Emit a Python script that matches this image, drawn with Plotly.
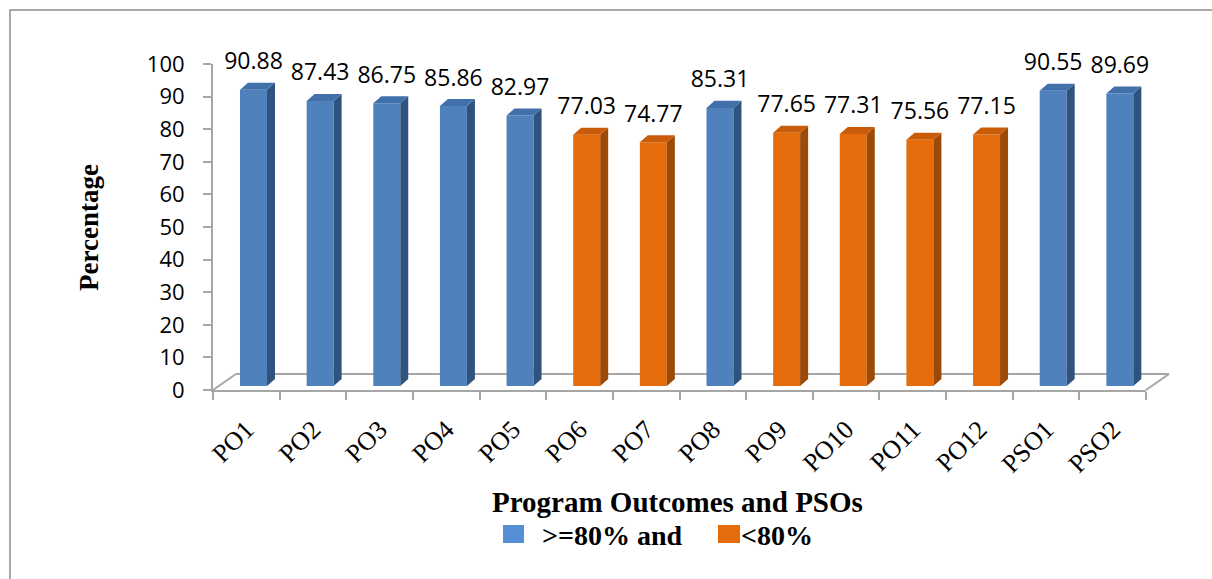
import plotly.graph_objects as go

categories = ["PO1", "PO2", "PO3", "PO4", "PO5", "PO6", "PO7", "PO8", "PO9",
              "PO10", "PO11", "PO12", "PSO1", "PSO2"]
values = [90.88, 87.43, 86.75, 85.86, 82.97, 77.03, 74.77, 85.31, 77.65,
          77.31, 75.56, 77.15, 90.55, 89.69]
threshold = 80
y_ticks = list(range(0, 101, 10))
legend_labels = [">=80% and", "<80%"]
x_title = "Program Outcomes and PSOs"
y_title = "Percentage"

# figure geometry (pixels)
W, H = 1212, 579
ML, MR, MT, MB = 213, 66, 64, 189
PW, PH = W - ML - MR, H - MT - MB
N = len(categories)


def px(xp):
    return (xp - ML) / PW


def py(yp):
    return (H - MB - yp) / PH


# 3D style constants (data units)
front_off = 0.405
front_w = 0.405
base = 1.23
side_dx = 0.12
top_dy = 2.15
floor_dx = 0.345
floor_dy = 4.9
label_gap = 2.4

BLUE = dict(front="#4F81BD", side="#30527F", top="#4170AA", legend="#558ED5")
ORNG = dict(front="#E46C0A", side="#9C4A06", top="#C95C08", legend="#E46C0A")

fig = go.Figure()

groups = {"hi": BLUE, "lo": ORNG}
for key, col in groups.items():
    idx = [i for i, v in enumerate(values) if (v >= threshold) == (key == "hi")]
    xs_c = [i + front_off + front_w / 2 for i in idx]
    fig.add_trace(go.Bar(
        x=xs_c, y=[values[i] for i in idx], base=[base] * len(idx),
        width=front_w, marker=dict(color=col["front"], line=dict(width=0)),
        showlegend=False, hoverinfo="skip"))
    sx, sy, tx, ty = [], [], [], []
    for i in idx:
        x0 = i + front_off
        x1 = x0 + front_w
        top = base + values[i]
        sx += [x1, x1, x1 + side_dx, x1 + side_dx, x1, None]
        sy += [base, top, top + top_dy, base + top_dy, base, None]
        tx += [x0, x1, x1 + side_dx, x0 + side_dx, x0, None]
        ty += [top, top, top + top_dy, top + top_dy, top, None]
    fig.add_trace(go.Scatter(x=sx, y=sy, mode="lines", fill="toself",
                             fillcolor=col["side"], line=dict(width=0, color=col["side"]),
                             showlegend=False, hoverinfo="skip"))
    fig.add_trace(go.Scatter(x=tx, y=ty, mode="lines", fill="toself",
                             fillcolor=col["top"], line=dict(width=0, color=col["top"]),
                             showlegend=False, hoverinfo="skip"))

# value labels
fig.add_trace(go.Scatter(
    x=[i + front_off + front_w / 2 for i in range(N)],
    y=[base + v + top_dy + label_gap for v in values],
    mode="text", text=[f"{v:.2f}" for v in values],
    textposition="top center", cliponaxis=False,
    textfont=dict(family="Open Sans", size=23, color="black"),
    showlegend=False, hoverinfo="skip"))

GRAY = "#A6A6A6"
shapes = []
fx = lambda xd: xd / N
fy = lambda yd: yd / 100
for (a, b) in [((0, 0), (floor_dx, floor_dy)),
               ((floor_dx, floor_dy), (N + floor_dx, floor_dy)),
               ((N + floor_dx, floor_dy), (N, 0))]:
    shapes.append(dict(type="line", xref="paper", yref="paper",
                       x0=fx(a[0]), y0=fy(a[1]), x1=fx(b[0]), y1=fy(b[1]),
                       line=dict(color=GRAY, width=2), layer="below"))
# outer frame
shapes.append(dict(type="rect", xref="paper", yref="paper",
                   x0=px(10), y0=py(10), x1=px(1225), y1=py(600),
                   line=dict(color="#8C8C8C", width=1.5)))
# legend squares
for (x0, x1), col in zip([(503, 524), (718, 740)], [BLUE, ORNG]):
    shapes.append(dict(type="rect", xref="paper", yref="paper",
                       x0=px(x0), x1=px(x1), y0=py(543), y1=py(525),
                       fillcolor=col["legend"], line=dict(width=0)))

annotations = [
    dict(text=x_title, xref="paper", yref="paper", x=px(677), y=py(502),
         showarrow=False, xanchor="center", yanchor="middle",
         font=dict(family="Liberation Serif", size=29, color="black", weight="bold")),
    dict(text=y_title, xref="paper", yref="paper", x=px(89), y=py(228),
         showarrow=False, xanchor="center", yanchor="middle", textangle=-90,
         font=dict(family="Liberation Serif", size=27, color="black", weight="bold")),
    dict(text=legend_labels[0], xref="paper", yref="paper", x=px(540), y=py(535),
         showarrow=False, xanchor="left", yanchor="middle",
         font=dict(family="Liberation Serif", size=28, color="black", weight="bold")),
    dict(text=legend_labels[1], xref="paper", yref="paper", x=px(739), y=py(535),
         showarrow=False, xanchor="left", yanchor="middle",
         font=dict(family="Liberation Serif", size=28, color="black", weight="bold")),
]

fig.update_layout(
    width=W, height=H, margin=dict(l=ML, r=MR, t=MT, b=MB),
    paper_bgcolor="white", plot_bgcolor="white",
    barmode="overlay", showlegend=False,
    shapes=shapes, annotations=annotations,
    xaxis=dict(range=[0, N], tickmode="array",
               tickvals=[i + 0.5 for i in range(N)], ticktext=categories,
               ticks="", tickangle=-45, ticklabelstandoff=12,
               tickfont=dict(family="Liberation Serif", size=26, color="black"),
               showline=True, linecolor=GRAY, linewidth=2, showgrid=False,
               zeroline=False,
               minor=dict(tickmode="array", tickvals=list(range(N + 1)),
                          ticks="outside", ticklen=8, tickwidth=2, tickcolor=GRAY,
                          showgrid=False)),
    yaxis=dict(range=[0, 100], tickmode="array", tickvals=y_ticks,
               ticks="outside", ticklen=8, tickwidth=2, tickcolor=GRAY,
               ticklabelstandoff=14,
               tickfont=dict(family="Open Sans", size=22, color="black"),
               showline=True, linecolor=GRAY, linewidth=2, showgrid=False,
               zeroline=False),
)

fig.write_html("out.html")
